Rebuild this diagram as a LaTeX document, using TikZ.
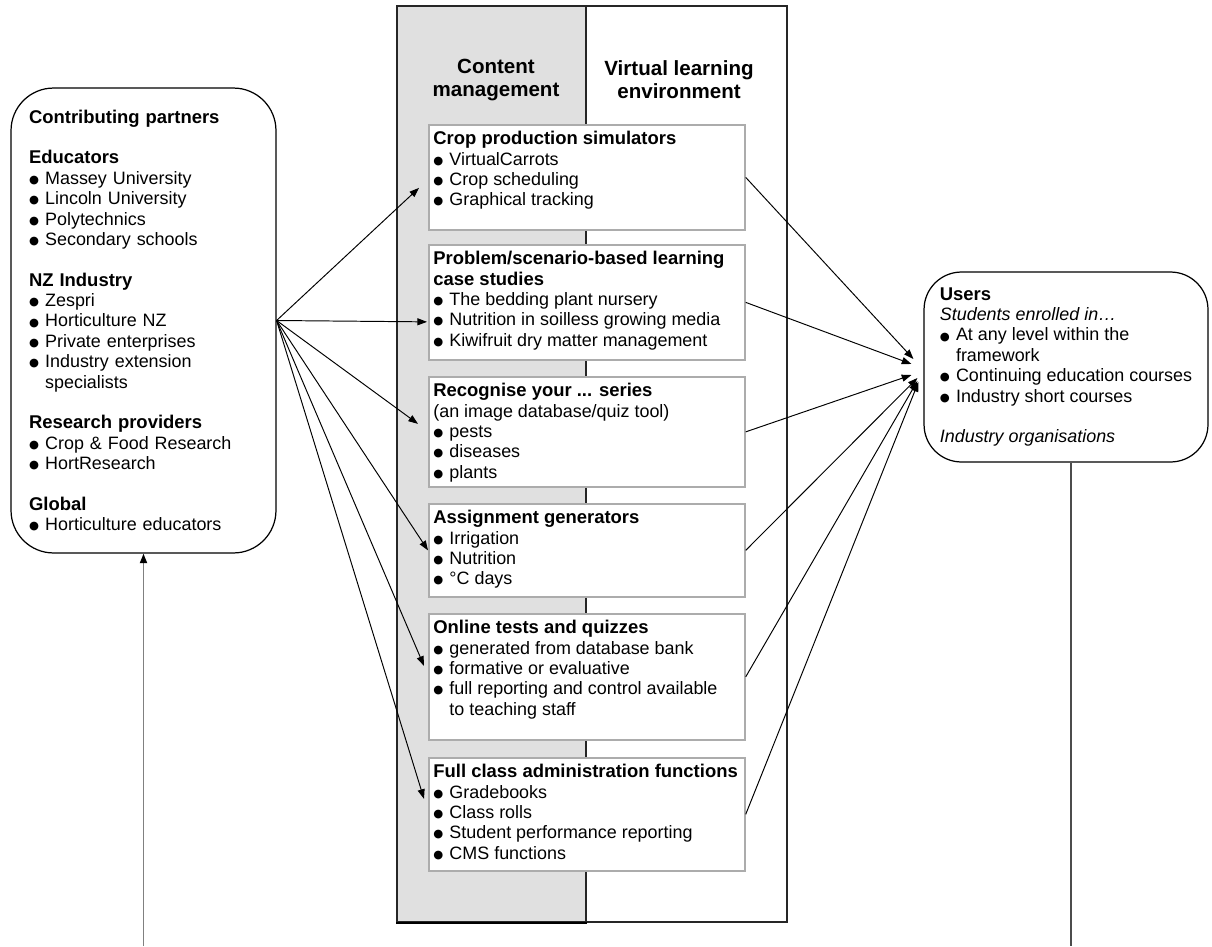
\documentclass[tikz,border=0pt]{standalone}
\usepackage{fontspec}
\setmainfont{Liberation Sans}
\newfontfamily\dotfont{DejaVu Sans}
\usetikzlibrary{arrows.meta}
\usetikzlibrary{calc}
\usepackage{xcolor}
\definecolor{cmsgrey}{RGB}{224,224,224}
\definecolor{framegrey}{RGB}{172,172,172}

\newcommand{\itm}{\makebox[0.9em][l]{\raisebox{0.5pt}{\dotfont\fontsize{6.5}{6.5}\selectfont ●}}}
\newcommand{\cnt}{\hspace*{0.9em}}
\newcommand{\ttl}[1]{{\bfseries\fontsize{10.5}{11.6}\selectfont #1}}

\tikzset{
	rbox/.style={draw=black,line width=0.7pt,rounded corners=0.85cm,align=left,font=\fontsize{10.2}{11.6}\selectfont,inner ysep=0pt},
	colbox/.style={draw=black!85,line width=0.7pt,minimum height=18.32cm,inner sep=0pt},
	toolbox/.style={draw=framegrey,line width=1pt,fill=white,anchor=north west,inner sep=0pt,minimum width=6.32cm},
	tooltext/.style={anchor=north west,align=left,inner sep=0pt,font=\fontsize{10.2}{11.6}\selectfont},
	head/.style={font=\bfseries\fontsize{11.7}{13}\selectfont,align=center},
	link/.style={->,>={Triangle[length=5.5pt,width=4pt]},line width=0.55pt},
}

\begin{document}
\begin{tikzpicture}[x=0.02cm,y=-0.02cm]
	\useasboundingbox (0,0) rectangle (1212,946);

	\node(cms) at (491.5,464)[colbox,fill=cmsgrey,minimum width=3.78cm]{};
	\node(vle) at (686.5,464)[colbox,minimum width=4.02cm]{};
	\draw[line width=1.1pt] (cms.south west) to (cms.south east);
	\node(cmshead) at (496,80)[head]{Content\\management};
	\node(vlehead) at (679,80)[head]{Virtual learning\\environment};

	\node(sim) at (428,124)[toolbox,minimum height=2.1cm]{};
	\node(pbl) at (428,244)[toolbox,minimum height=2.3cm]{};
	\node(recog) at (428,376)[toolbox,minimum height=2.2cm]{};
	\node(assign) at (428,503)[toolbox,minimum height=1.86cm]{};
	\node(tests) at (428,613)[toolbox,minimum height=2.52cm]{};
	\node(admin) at (428,757)[toolbox,minimum height=2.26cm]{};

	\node at ([shift={(5,7)}]sim.north west)[tooltext]{\ttl{Crop production simulators}\\
		\itm VirtualCarrots\\
		\itm Crop scheduling\\
		\itm Graphical tracking};
	\node at ([shift={(5,7)}]pbl.north west)[tooltext]{\ttl{Problem/scenario-based learning}\\
		\ttl{case studies}\\
		\itm The bedding plant nursery\\
		\itm Nutrition in soilless growing media\\
		\itm Kiwifruit dry matter management};
	\node at ([shift={(5,7)}]recog.north west)[tooltext]{\ttl{Recognise your ... series}\\
		(an image database/quiz tool)\\
		\itm pests\\
		\itm diseases\\
		\itm plants};
	\node at ([shift={(5,7)}]assign.north west)[tooltext]{\ttl{Assignment generators}\\
		\itm Irrigation\\
		\itm Nutrition\\
		\itm °C days};
	\node at ([shift={(5,7)}]tests.north west)[tooltext]{\ttl{Online tests and quizzes}\\
		\itm generated from database bank\\
		\itm formative or evaluative\\
		\itm full reporting and control available\\
		\cnt to teaching staff};
	\node at ([shift={(5,7)}]admin.north west)[tooltext]{\ttl{Full class administration functions}\\
		\itm Gradebooks\\
		\itm Class rolls\\
		\itm Student performance reporting\\
		\itm CMS functions};

	\node(partners) at (143.5,320.5)[rbox,text width=4.58cm,inner xsep=0.36cm,minimum height=9.3cm]{\ttl{Contributing partners}\\[11.6pt]
		\ttl{Educators}\\
		\itm Massey University\\
		\itm Lincoln University\\
		\itm Polytechnics\\
		\itm Secondary schools\\[11.6pt]
		\ttl{NZ Industry}\\
		\itm Zespri\\
		\itm Horticulture NZ\\
		\itm Private enterprises\\
		\itm Industry extension\\
		\cnt specialists\\[11.6pt]
		\ttl{Research providers}\\
		\itm Crop \& Food Research\\
		\itm HortResearch\\[11.6pt]
		\ttl{Global}\\
		\itm Horticulture educators};

	\node(users) at (1066,367)[rbox,rounded corners=0.75cm,minimum width=5.68cm,minimum height=3.8cm]{\ttl{Users}\\
		\textit{Students enrolled in\ldots}\\
		\itm At any level within the\\
		\cnt framework\\
		\itm Continuing education courses\\
		\itm Industry short courses\\[11.6pt]
		\textit{Industry organisations}};

	\draw[link](partners.east) to ([shift={(-9,10.5)}]sim.west);
	\draw[link](partners.east) to ([shift={(-1,19.5)}]pbl.west);
	\draw[link](partners.east) to ([shift={(-10,-8)}]recog.west);
	\draw[link](partners.east) to (assign.west);
	\draw[link](partners.east) to ([shift={(-4,-11)}]tests.west);
	\draw[link](partners.east) to ([shift={(-4,-15.5)}]admin.west);

	\draw[link](sim.east) to ([shift={(-10,-8)}]users.west);
	\draw[link](pbl.east) to ([shift={(-12,-3)}]users.west);
	\draw[link](recog.east) to ([shift={(-12,8)}]users.west);
	\draw[link](assign.east) to ([shift={(-6,11)}]users.west);
	\draw[link](tests.east) to ([shift={(-6,14)}]users.west);
	\draw[link](admin.east) to ([shift={(-5,15)}]users.west);

	\coordinate(loopL) at (143.5,946);
	\coordinate(loopR) at (1071,946);
	\draw[-{Triangle[length=5.5pt,width=4pt,black]},draw=black!50,line width=1.1pt](loopL) to (partners.south);
	\draw[black!70,line width=0.6pt](users.south -| loopR) to (loopR);
\end{tikzpicture}
\end{document}
